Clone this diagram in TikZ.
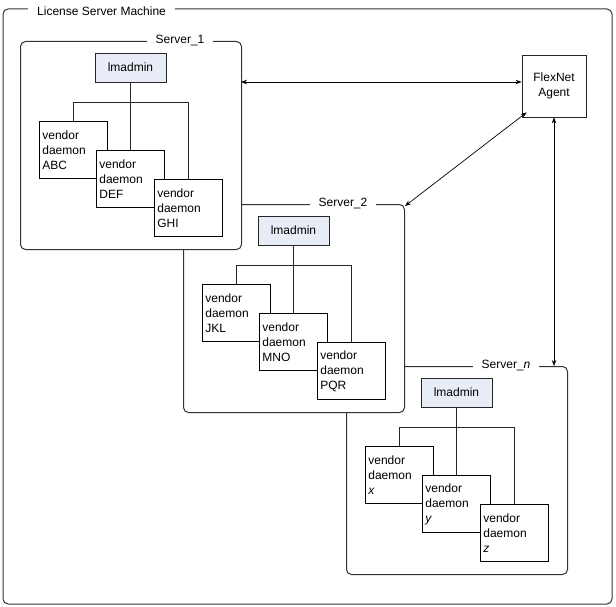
\documentclass[tikz,border=0pt]{standalone}
\usepackage{fontspec}
\setmainfont{Liberation Sans}
\usetikzlibrary{arrows.meta}
\definecolor{admfill}{RGB}{232,236,246}
\tikzset{
  frame/.style={draw=black!80, line width=1pt, rounded corners=5pt, fill=white},
  adm/.style={draw=black!85, line width=0.8pt, fill=admfill, minimum width=71pt, minimum height=29pt, inner sep=0pt},
  vd/.style={draw=black, line width=0.8pt, fill=white, minimum width=68pt, minimum height=57pt, anchor=north west,
    align=left, text width=62pt, inner sep=2.5pt, font=\fontsize{12}{15}\selectfont},
  ttl/.style={fill=white, inner xsep=9pt, inner ysep=3pt, font=\fontsize{12}{14}\selectfont},
  link/.style={draw=black!85, line width=0.9pt},
  conn/.style={black, line width=0.7pt, {Stealth[length=6pt,width=4.5pt]}-{Stealth[length=6pt,width=4.5pt]}}
}
% one server block, drawn at an offset
\newcommand{\serverblock}[7]{%
  \begin{scope}[shift={(#1,#2)}]
    \node[frame, minimum width=221pt, minimum height=208pt, anchor=north west] (s#3) at (20,41) {};
    \node[ttl] (t#3) at (180,41) {Server\_#4};
    \node[adm, font=\fontsize{12}{14}\selectfont] (a#3) at (130.5,67.5) {lmadmin};
    \draw[link] (73,121) |- (188,102) -- (188,179);
    \draw[link] (a#3.south) -- (130.5,150);
    \node[vd] (va#3) at (39,121) {vendor\\daemon\\#5};
    \node[vd] (vb#3) at (96,150) {vendor\\daemon\\#6};
    \node[vd] (vc#3) at (154,179) {vendor\\daemon\\#7};
  \end{scope}}

\begin{document}
\begin{tikzpicture}[x=1pt, y=-1pt]
  \useasboundingbox (0,0) rectangle (616,607);

  % machine frame
  \draw[frame] (3,9) rectangle (612,604);
  \node[ttl, anchor=west] (lsm) at (28,11) {License Server Machine};

  % servers, back to front
  \serverblock{326}{325}{n}{\textit{n}}{\textit{x}}{\textit{y}}{\textit{z}}
  \serverblock{163}{163}{2}{2}{JKL}{MNO}{PQR}
  \serverblock{0}{0}{1}{1}{ABC}{DEF}{GHI}

  % agent
  \node[draw=black!85, line width=0.8pt, fill=white, minimum width=64pt, minimum height=62pt, align=center,
    font=\fontsize{12}{15}\selectfont] (fa) at (554,86) {FlexNet\\Agent};

  \coordinate (h1) at (241,82);
  \draw[conn] (h1) -- (h1 -| fa.west);
  \draw[conn] ([shift={(5,-5)}]fa.south west) -- ([shift={(0,2)}]s2.north east);
  \draw[conn] (fa.south) -- (fa.south |- sn.north);
\end{tikzpicture}
\end{document}
